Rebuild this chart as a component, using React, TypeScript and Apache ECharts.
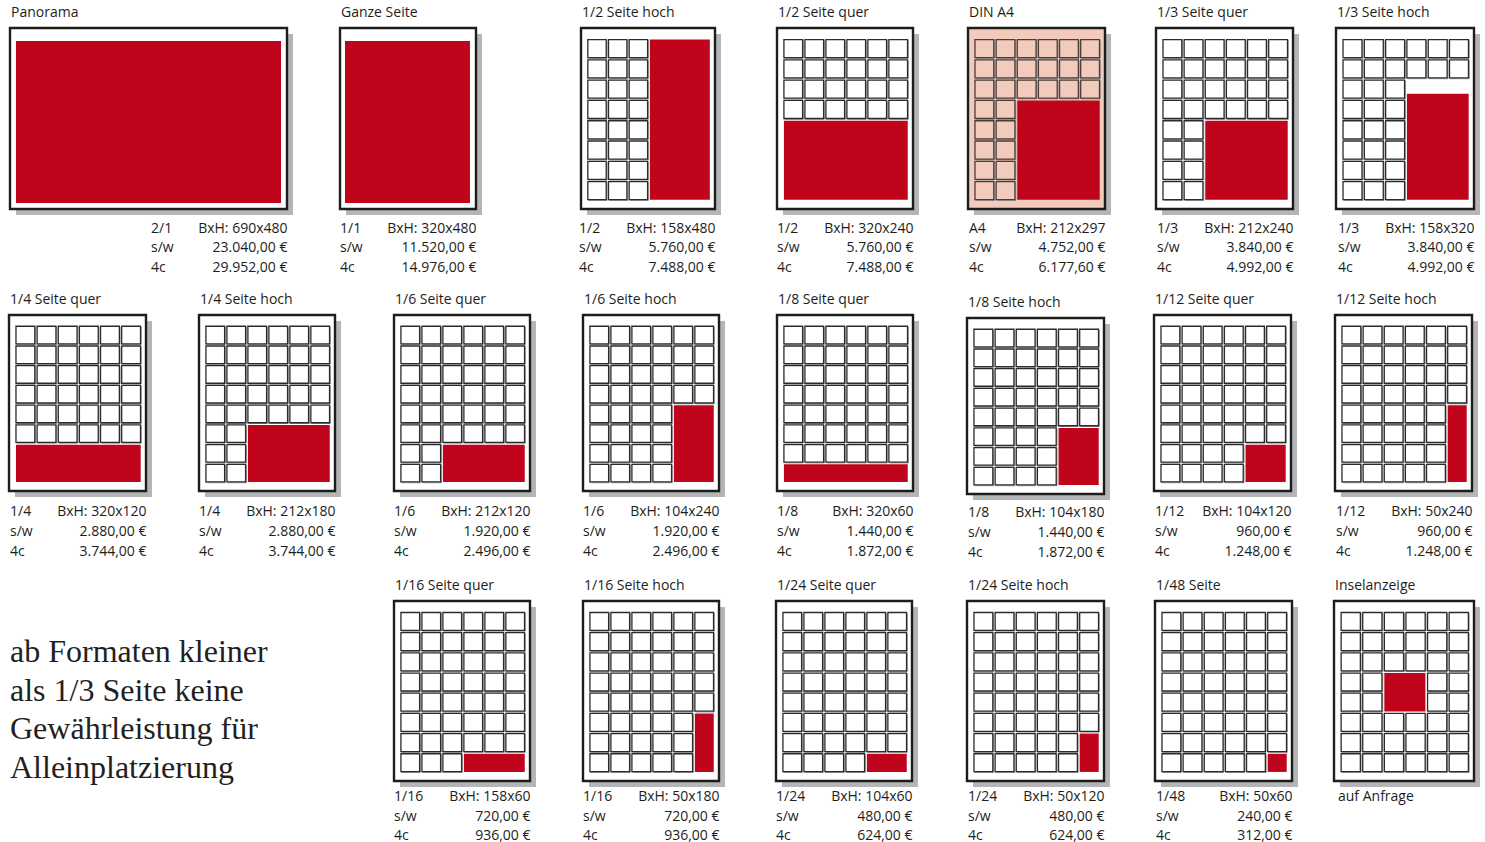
import React, { useEffect, useRef } from "react";
import * as echarts from "echarts";

// ---------- data ----------
const formatNames = [
  "Panorama", "Ganze Seite", "1/2 Seite hoch", "1/2 Seite quer", "DIN A4", "1/3 Seite quer", "1/3 Seite hoch",
  "1/4 Seite quer", "1/4 Seite hoch", "1/6 Seite quer", "1/6 Seite hoch", "1/8 Seite quer", "1/8 Seite hoch", "1/12 Seite quer", "1/12 Seite hoch",
  "1/16 Seite quer", "1/16 Seite hoch", "1/24 Seite quer", "1/24 Seite hoch", "1/48 Seite", "Inselanzeige",
];
const fractionLabels = [
  "2/1", "1/1", "1/2", "1/2", "A4", "1/3", "1/3",
  "1/4", "1/4", "1/6", "1/6", "1/8", "1/8", "1/12", "1/12",
  "1/16", "1/16", "1/24", "1/24", "1/48", "auf Anfrage",
];
const sizeLabels = [
  "BxH: 690x480", "BxH: 320x480", "BxH: 158x480", "BxH: 320x240", "BxH: 212x297", "BxH: 212x240", "BxH: 158x320",
  "BxH: 320x120", "BxH: 212x180", "BxH: 212x120", "BxH: 104x240", "BxH: 320x60", "BxH: 104x180", "BxH: 104x120", "BxH: 50x240",
  "BxH: 158x60", "BxH: 50x180", "BxH: 104x60", "BxH: 50x120", "BxH: 50x60", "",
];
const priceSW = [
  "23.040,00 €", "11.520,00 €", "5.760,00 €", "5.760,00 €", "4.752,00 €", "3.840,00 €", "3.840,00 €",
  "2.880,00 €", "2.880,00 €", "1.920,00 €", "1.920,00 €", "1.440,00 €", "1.440,00 €", "960,00 €", "960,00 €",
  "720,00 €", "720,00 €", "480,00 €", "480,00 €", "240,00 €", "",
];
const price4c = [
  "29.952,00 €", "14.976,00 €", "7.488,00 €", "7.488,00 €", "6.177,60 €", "4.992,00 €", "4.992,00 €",
  "3.744,00 €", "3.744,00 €", "2.496,00 €", "2.496,00 €", "1.872,00 €", "1.872,00 €", "1.248,00 €", "1.248,00 €",
  "936,00 €", "936,00 €", "624,00 €", "624,00 €", "312,00 €", "",
];
// ad area in page-grid units: [col start, row start, col end, row end] (6 columns x 8 rows, panorama 12 columns)
const adAreas = [
  [0, 0, 12, 8], [0, 0, 6, 8], [3, 0, 6, 8], [0, 4, 6, 8], [2, 3, 6, 8], [2, 4, 6, 8], [3, 2.67, 6, 8],
  [0, 6, 6, 8], [2, 5, 6, 8], [2, 6, 6, 8], [4, 4, 6, 8], [0, 7, 6, 8], [4, 5, 6, 8], [4, 6, 6, 8], [5, 4, 6, 8],
  [3, 7, 6, 8], [5, 5, 6, 8], [4, 7, 6, 8], [5, 6, 6, 8], [5, 7, 6, 8], [2, 3, 4, 5],
];
const pageColumns = [12, 6, 6, 6, 6, 6, 6, 6, 6, 6, 6, 6, 6, 6, 6, 6, 6, 6, 6, 6, 6];
const pageRows = 8;
const showModuleGrid = [false, false, true, true, true, true, true, true, true, true, true, true, true, true, true, true, true, true, true, true, true];
const tintedPage = [false, false, false, false, true, false, false, false, false, false, false, false, false, false, false, false, false, false, false, false, false];
const noteLines = ["ab Formaten kleiner", "als 1/3 Seite keine", "Gewährleistung für", "Alleinplatzierung"];

// ---------- layout ----------
const W = 1485;
const H = 842;
const boxLeft = [10, 340, 581, 777, 968, 1156, 1336, 9, 199, 394, 583, 777, 967, 1154, 1335, 394, 583, 776, 967, 1155, 1334];
const boxRight = [287, 476, 715, 913, 1105, 1293, 1474, 146, 335, 530, 719, 913, 1104, 1291, 1472, 530, 719, 912, 1104, 1292, 1474];
const boxRow = [0, 0, 0, 0, 0, 0, 0, 1, 1, 1, 1, 1, 1, 1, 1, 2, 2, 2, 2, 2, 2];
const boxTopOffset = [0, 0, 0, 0, 0, 0, 0, 0, 0, 0, 0, 0, 3, 0, 0, 0, 0, 0, 0, 0, 0];
const rowTop = [28, 315, 601];
const rowBottom = [209, 491, 781];
const rowInfoY = [[227, 246, 266], [510, 530, 550], [795, 815, 834]];
const noteY = [654, 692.5, 731, 769.5];

const RED = "#c0041b";
const SHADOW = "#b3b5b6";
const INK = "#1d1d1b";
const PINK = "#f2cbbd";
const SANS = '"Open Sans", "Noto Sans", sans-serif';
const SERIF = '"Liberation Serif", "DejaVu Serif", serif';

function cellsFor(i: number): number[][] {
  if (!showModuleGrid[i]) return [];
  const [x0, y0, x1, y1] = adAreas[i];
  const out: number[][] = [];
  for (let r = 0; r < pageRows; r++) {
    for (let c = 0; c < pageColumns[i]; c++) {
      const overlap = c < x1 && c + 1 > x0 && r < y1 && r + 1 > y0;
      if (!overlap) out.push([c, r]);
    }
  }
  return out;
}

function buildOption() {
  const grid: any[] = [];
  const xAxis: any[] = [];
  const yAxis: any[] = [];
  const series: any[] = [];

  formatNames.forEach((name, i) => {
    const row = boxRow[i];
    const top = rowTop[row] + boxTopOffset[i];
    const bottom = rowBottom[row] + boxTopOffset[i];
    const cols = pageColumns[i];
    const full = !showModuleGrid[i];
    const m = full
      ? i === 0
        ? { l: 0.27, r: 0.27, t: 0.64, b: 0.3 }
        : { l: 0.24, r: 0.29, t: 0.64, b: 0.3 }
      : { l: 0.28, r: 0.2, t: 0.52, b: 0.4 };
    grid.push({ left: boxLeft[i], top, width: boxRight[i] - boxLeft[i], height: bottom - top, show: false });
    xAxis.push({ gridIndex: i, type: "value", min: -m.l, max: cols + m.r, show: false });
    yAxis.push({ gridIndex: i, type: "value", min: -m.t, max: pageRows + m.b, inverse: true, show: false });

    const tinted = tintedPage[i];
    const infoShift = boxTopOffset[i] > 0 ? 1.5 : 0;
    const infoY = rowInfoY[row].map((v) => v + infoShift);

    // page: shadow, frame, title and price lines
    series.push({
      type: "custom",
      xAxisIndex: i,
      yAxisIndex: i,
      clip: false,
      silent: true,
      z: 1,
      data: [[-m.l, -m.t, cols + m.r, pageRows + m.b]],
      renderItem: (_p: any, api: any) => {
        const a = api.coord([api.value(0), api.value(1)]);
        const b = api.coord([api.value(2), api.value(3)]);
        const w = b[0] - a[0];
        const h = b[1] - a[1];
        const txt = (text: string, x: number, y: number, align: string) => ({
          type: "text",
          x,
          y,
          style: { text, fill: INK, fontSize: 14, fontFamily: SANS, align, verticalAlign: "middle" },
        });
        const infoLeft = b[0] - 136;
        const infoRight = b[0] + 0.5;
        const children: any[] = [
          { type: "rect", shape: { x: a[0] + 6, y: a[1] + 6, width: w, height: h }, style: { fill: SHADOW } },
          {
            type: "rect",
            shape: { x: a[0], y: a[1], width: w, height: h },
            style: { fill: tinted ? PINK : "#ffffff", stroke: INK, lineWidth: 2.4 },
          },
          txt(name, a[0] + 1, a[1] - 17, "left"),
          txt(fractionLabels[i], infoLeft, infoY[0], "left"),
        ];
        if (sizeLabels[i]) {
          children.push(txt(sizeLabels[i], infoRight, infoY[0], "right"));
          children.push(txt("s/w", infoLeft, infoY[1], "left"));
          children.push(txt(priceSW[i], infoRight, infoY[1], "right"));
          children.push(txt("4c", infoLeft, infoY[2], "left"));
          children.push(txt(price4c[i], infoRight, infoY[2], "right"));
        }
        return { type: "group", children };
      },
    });

    // module cells
    series.push({
      type: "custom",
      xAxisIndex: i,
      yAxisIndex: i,
      clip: false,
      silent: true,
      z: 2,
      data: cellsFor(i),
      renderItem: (_p: any, api: any) => {
        const c = api.value(0);
        const r = api.value(1);
        const a = api.coord([c + 0.05, r + 0.05]);
        const b = api.coord([c + 0.94, r + 0.94]);
        return {
          type: "group",
          children: [
            {
              type: "rect",
              shape: { x: a[0] + 0.8, y: a[1] + 0.8, width: b[0] - a[0], height: b[1] - a[1] },
              style: { fill: "none", stroke: "#9a9a9a", lineWidth: 1 },
            },
            {
              type: "rect",
              shape: { x: a[0], y: a[1], width: b[0] - a[0], height: b[1] - a[1] },
              style: { fill: tinted ? PINK : "#ffffff", stroke: tinted ? "#4a3c37" : "#2b2b2b", lineWidth: 1.3 },
            },
          ],
        };
      },
    });

    // advertisement area
    series.push({
      type: "custom",
      xAxisIndex: i,
      yAxisIndex: i,
      clip: false,
      silent: true,
      z: 3,
      data: [adAreas[i]],
      renderItem: (_p: any, api: any) => {
        const inset = full ? 0 : 0.05;
        const a = api.coord([api.value(0) + inset, api.value(1) + inset]);
        const b = api.coord([api.value(2) - inset, api.value(3) - inset]);
        return {
          type: "rect",
          shape: { x: a[0], y: a[1], width: b[0] - a[0], height: b[1] - a[1] },
          style: { fill: RED },
        };
      },
    });
  });

  const graphic = noteLines.map((line, k) => ({
    type: "text",
    left: 10,
    top: noteY[k] - 19,
    style: { text: line, fill: "#231f20", fontSize: 32, fontFamily: SERIF },
  }));

  return { animation: false, backgroundColor: "#ffffff", grid, xAxis, yAxis, series, graphic };
}

export default function App() {
  const ref = useRef<HTMLDivElement>(null);
  useEffect(() => {
    if (!ref.current) return;
    const chart = echarts.init(ref.current, undefined, { renderer: "svg", width: W, height: H });
    chart.setOption(buildOption() as any);
    return () => chart.dispose();
  }, []);
  return (
    <div
      ref={ref}
      style={{ position: "absolute", left: 0, top: 0, width: W, height: H, background: "#ffffff" }}
    />
  );
}
